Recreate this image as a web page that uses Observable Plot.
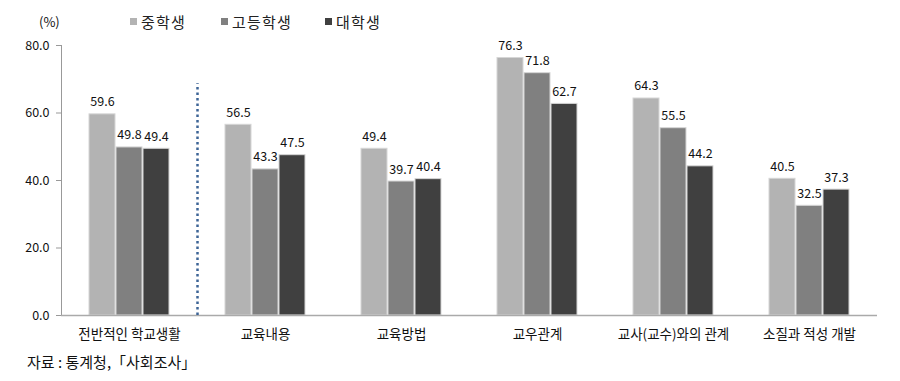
<!DOCTYPE html>
<html>
<head>
<meta charset="utf-8">
<script src="https://cdn.jsdelivr.net/npm/d3@7"></script>
<script src="https://cdn.jsdelivr.net/npm/@observablehq/plot@0.6"></script>
<style>
  html, body { margin: 0; padding: 0; background: #fff; }
  body { width: 900px; height: 381px; overflow: hidden; font-family: "Noto Sans CJK KR", "Noto Sans", sans-serif; color: #111; }
  #header { position: relative; height: 36px; }
  #unit { position: absolute; left: 39px; top: 12px; font-size: 13px; }
  .item { position: absolute; top: 11px; font-size: 15px; letter-spacing: 1.2px; display: flex; align-items: center; color: #222; }
  .sw { width: 7px; height: 7px; margin-right: 4px; display: inline-block; }
  #chart svg { display: block; }
  #caption { height: 24px; line-height: 24px; padding-left: 27px; font-size: 15px; color: #111; }
</style>
</head>
<body>
<div id="header"><span id="unit">(%)</span></div>
<div id="chart"></div>
<div id="caption">자료 : 통계청,「사회조사」</div>
<script>
const categories = ["전반적인 학교생활", "교육내용", "교육방법", "교우관계", "교사(교수)와의 관계", "소질과 적성 개발"];
const series = ["중학생", "고등학생", "대학생"];
const middleSchool = [59.6, 56.5, 49.4, 76.3, 64.3, 40.5];
const highSchool = [49.8, 43.3, 39.7, 71.8, 55.5, 32.5];
const university = [49.4, 47.5, 40.4, 62.7, 44.2, 37.3];
const yTicks = [0, 20, 40, 60, 80];
const dividerFacet = ["교육내용"];
const dividerTop = [68.7];

const colors = ["#b3b3b3", "#808080", "#404040"];
const legendLeft = [130, 221, 325];

const valuesBySeries = [middleSchool, highSchool, university];
const rows = [];
categories.forEach((c, i) => series.forEach((s, j) => rows.push({category: c, series: s, value: valuesBySeries[j][i]})));

// legend
const header = document.getElementById("header");
series.forEach((s, j) => {
  const el = document.createElement("div");
  el.className = "item";
  el.style.left = legendLeft[j] + "px";
  el.innerHTML = `<span class="sw" style="background:${colors[j]}"></span>${s}`;
  header.appendChild(el);
});

const chart = Plot.plot({
  width: 900,
  height: 314,
  marginTop: 9,
  marginBottom: 35,
  marginLeft: 59,
  marginRight: 21,
  style: {fontFamily: "'Noto Sans CJK KR', 'Noto Sans', sans-serif", color: "#111"},
  fx: {domain: categories, padding: 0, label: null},
  x: {domain: series, paddingInner: 0.055, paddingOuter: 0.965, axis: null},
  y: {domain: [0, 80], label: null},
  color: {domain: series, range: colors},
  marks: [
    Plot.axisY({ticks: yTicks, tickFormat: d3.format(".1f"), tickSize: 5, tickPadding: 7, fontSize: 12.5, label: null, stroke: "#999"}),
    Plot.axisFx({anchor: "bottom", tickSize: 0, tickPadding: 14, fontSize: 13.5, label: null}),
    Plot.frame({anchor: "left", facetAnchor: "left", stroke: "#999"}),
    Plot.barY(rows, {fx: "category", x: "series", y: "value", fill: "series", stroke: "#d6d6d6", strokeWidth: 1}),
    Plot.ruleY([0], {stroke: "#aaa", strokeWidth: 1.5}),
    Plot.text(rows, {fx: "category", x: "series", y: "value", text: d => d.value.toFixed(1), dy: -8, lineAnchor: "bottom", fontSize: 12.5, fill: "#111"}),
    Plot.ruleX(dividerTop, {
      fx: dividerFacet, x: null, y1: () => 0, y2: d => d,
      stroke: "#3d6496", strokeWidth: 2.5, strokeDasharray: "2.5,3",
      render: (index, scales, values, dimensions, context, next) => {
        const g = next(index, scales, values, dimensions, context);
        g.querySelectorAll("line").forEach(l => { l.setAttribute("x1", dimensions.marginLeft); l.setAttribute("x2", dimensions.marginLeft); });
        return g;
      }
    })
  ]
});
document.getElementById("chart").appendChild(chart);
</script>
</body>
</html>
